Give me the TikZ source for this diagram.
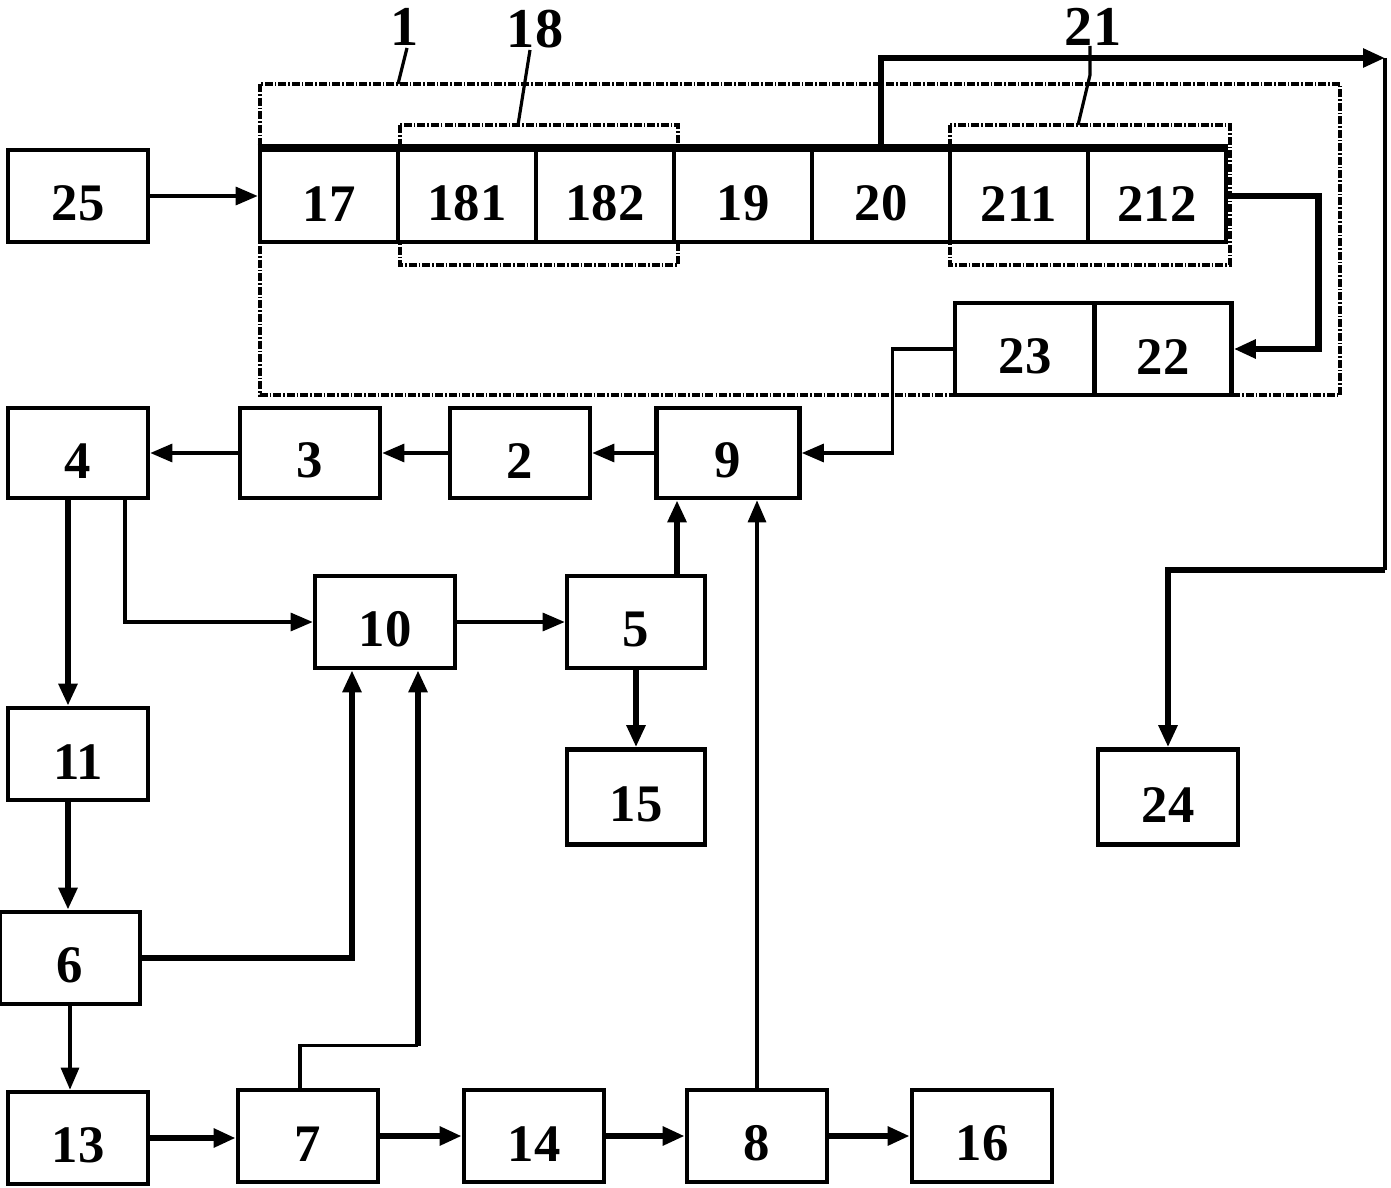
\documentclass[tikz,border=0pt]{standalone}
\usepackage{fontspec}
\setmainfont{Liberation Serif}
\usetikzlibrary{arrows.meta}

\tikzset{
  blk/.style={draw, fill=white, line width=1.3pt, minimum width=1.4cm, minimum height=0.92cm, inner sep=0pt, text height=0.5cm, font=\bfseries\fontsize{15}{17}\selectfont},
  cell/.style={blk, minimum width=1.38cm},
  lbl/.style={font=\bfseries\fontsize{16}{18}\selectfont},
  grp/.style={line width=1.2pt, dash pattern=on 0.08cm off 0.02cm on 0.015cm off 0.02cm},
  tip/.style={-{Triangle[length=0.22cm,width=0.18cm]}},
  thin/.style={line width=0.9pt},
  fat/.style={line width=1.8pt}
}

\begin{document}
\begin{tikzpicture}[x=0.01cm,y=-0.01cm]
\useasboundingbox (0,0) rectangle (1391,1188);
% dashed groups
\draw[grp] (260,84) rectangle (1340,395);
\draw[grp] (400,125) rectangle (678,265);
\draw[grp] (950,125) rectangle (1230,265);
% labels of the groups
\node[lbl] (l1) at (405,27) {1};
\node[lbl] (l18) at (535,29) {18};
\node[lbl] (l21) at (1093,27) {21};
\draw[thin] (407,48) -- (398,84);
\draw[thin] (530,50) -- (518,125);
\draw[thin] (1090,46) -- (1090,75) -- (1078,125);
% strip of cells
\foreach \lab [count=\i from 0] in {17,181,182,19,20,211,212}
  \node[cell] (c\lab) at (329+138*\i,196) {\lab};
\draw[line width=2.2pt] (c17.north west) -- (c212.north east);
% boxes
\node[blk] (b25) at (78,196) {25};
\node[blk] (b23) at (1025,349) {23};
\node[blk, minimum width=1.37cm] (b22) at (1163,349) {22};
\node[blk, minimum height=0.9cm] (b4) at (78,453) {4};
\node[blk, minimum height=0.9cm] (b3) at (310,453) {3};
\node[blk, minimum height=0.9cm] (b2) at (520,453) {2};
\node[blk, minimum height=0.9cm, minimum width=1.43cm] (b9) at (728,453) {9};
\node[blk] (b10) at (385,622) {10};
\node[blk, minimum width=1.38cm] (b5) at (636,622) {5};
\node[blk, minimum height=0.95cm, minimum width=1.38cm] (b15) at (636,797) {15};
\node[blk, minimum height=0.95cm] (b24) at (1168,797) {24};
\node[blk] (b11) at (78,754) {11};
\node[blk] (b6) at (70,958) {6};
\node[blk] (b13) at (78,1138) {13};
\node[blk] (b7) at (308,1136) {7};
\node[blk] (b14) at (534,1136) {14};
\node[blk] (b8) at (757,1136) {8};
\node[blk] (b16) at (982,1136) {16};
% connectors
\coordinate (tr) at (1385,58);
\coordinate (br) at (1385,570);
\draw[thin,tip] (b25) -- (c17.west);
\draw[fat,tip] (c20.north) |- (tr);
\draw[thin] (tr) -- (br);
\draw[fat,tip] (br) -| (b24.north);
\draw[fat,tip] (c212.east) -- ++(90,0) |- (b22.east);
\draw[thin,tip] (b23.west) -- ++(-60,0) |- (b9.east);
\draw[thin,tip] (b9) -- (b2);
\draw[thin,tip] (b2) -- (b3);
\draw[thin,tip] (b3) -- (b4);
\draw[fat,tip] ([xshift=-0.1cm]b4.south) -- ([xshift=-0.1cm]b11.north);
\draw[fat,tip] ([xshift=-0.1cm]b11.south) -- ([xshift=-0.1cm]b11.south |- b6.north);
\draw[thin,tip] ([xshift=0.47cm]b4.south) |- (b10.west);
\draw[thin,tip] (b10) -- (b5);
\coordinate (p5) at ([xshift=0.41cm]b5.north);
\draw[fat,tip] (p5) -- (p5 |- b9.south);
\draw[fat,tip] (b5.south) -- (b15.north);
\draw[thin,tip] (b8.north) -- (b8.north |- b9.south);
\coordinate (q10a) at ([xshift=-0.33cm]b10.south);
\coordinate (q10b) at ([xshift=0.33cm]b10.south);
\draw[fat,tip] (b6.east) -| (q10a);
\coordinate (k7) at ([xshift=-0.08cm,yshift=0.42cm]b7.north);
\draw[thin] ([xshift=-0.08cm]b7.north) -- (k7) -- (k7 -| q10b);
\draw[fat,tip] (k7 -| q10b) -- (q10b);
\draw[thin,tip] (b6.south) -- (b6.south |- b13.north);
\draw[fat,tip] (b13.east) -- (b13.east -| b7.west);
\draw[fat,tip] (b7) -- (b14);
\draw[fat,tip] (b14) -- (b8);
\draw[fat,tip] (b8) -- (b16);
\end{tikzpicture}
\end{document}
